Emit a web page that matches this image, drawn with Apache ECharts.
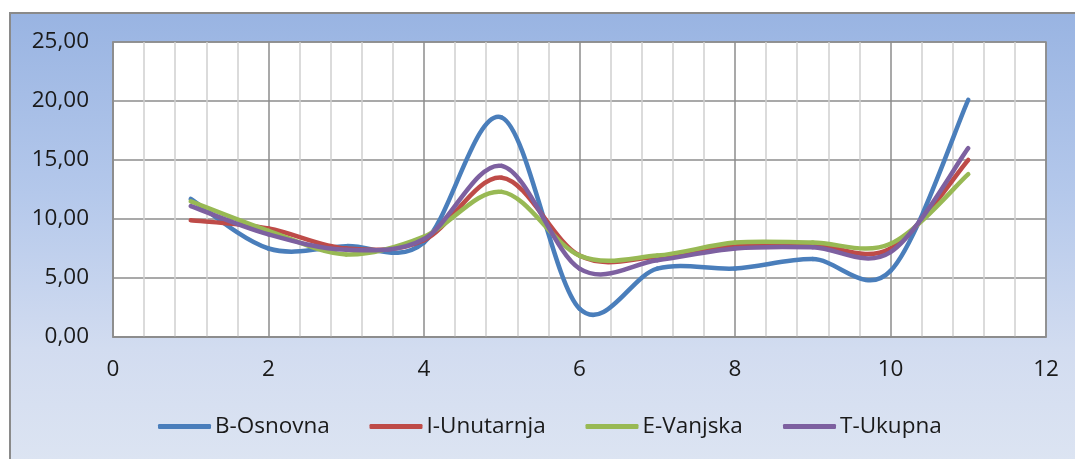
<!DOCTYPE html>
<html>
<head>
<meta charset="utf-8">
<script src="https://cdn.jsdelivr.net/npm/echarts@6/dist/echarts.min.js"></script>
<style>
  html, body { margin: 0; padding: 0; background: #ffffff; width: 1075px; height: 459px; overflow: hidden; }
  #frame {
    position: absolute; left: 9px; top: 12px; width: 1066px; height: 447px;
    border-left: 2px solid #8a8a8a; border-top: 2px solid #8a8a8a;
    background: linear-gradient(to bottom, #99b4e2 0%, #b4c8eb 40%, #d2dcf0 75%, #dce4f2 100%);
  }
  #chart { position: absolute; left: 0; top: 0; width: 1066px; height: 447px; }
</style>
</head>
<body>
<div id="frame"><div id="chart"></div></div>
<script>
// ---- data ----
const xValues = [1, 2, 3, 4, 5, 6, 7, 8, 9, 10, 11];
const seriesNames = ['B-Osnovna', 'I-Unutarnja', 'E-Vanjska', 'T-Ukupna'];
const bOsnovna   = [11.7, 7.5, 7.7, 8.0, 18.6, 2.4, 5.8, 5.8, 6.6, 5.6, 20.1];
const iUnutarnja = [9.9, 9.2, 7.5, 8.2, 13.5, 6.9, 6.8, 7.8, 7.8, 7.5, 15.0];
const eVanjska   = [11.5, 9.0, 7.0, 8.5, 12.3, 6.9, 6.9, 8.0, 8.0, 7.9, 13.8];
const tUkupna    = [11.1, 8.7, 7.4, 8.3, 14.5, 5.8, 6.5, 7.5, 7.6, 7.2, 16.0];
const yTickLabels = ['0,00', '5,00', '10,00', '15,00', '20,00', '25,00'];
const xTickLabels = ['0', '2', '4', '6', '8', '10', '12'];

const colors = ['#4a7ebb', '#be4b48', '#98b954', '#7d60a0'];
const allValues = [bOsnovna, iUnutarnja, eVanjska, tUkupna];

const chart = echarts.init(document.getElementById('chart'), null, { renderer: 'canvas' });
const font = '"Open Sans", "Liberation Sans", sans-serif';
const fs = 22.5;

// Smoothed line (Catmull-Rom Bezier, like a spreadsheet "smoothed line"),
// each segment positioned through the axes with api.coord.
function makeRender(values, color) {
  return function (params, api) {
    const i = params.dataIndex;
    const n = values.length;
    if (i >= n - 1) return null;
    const P = k => {
      const kk = Math.max(0, Math.min(n - 1, k));
      return api.coord([xValues[kk], values[kk]]);
    };
    const p0 = P(i - 1), p1 = P(i), p2 = P(i + 1), p3 = P(i + 2);
    return {
      type: 'bezierCurve',
      shape: {
        x1: p1[0], y1: p1[1], x2: p2[0], y2: p2[1],
        cpx1: p1[0] + (p2[0] - p0[0]) / 6, cpy1: p1[1] + (p2[1] - p0[1]) / 6,
        cpx2: p2[0] - (p3[0] - p1[0]) / 6, cpy2: p2[1] - (p3[1] - p1[1]) / 6
      },
      style: { stroke: color, lineWidth: 4.5, fill: null, lineCap: 'round' },
      silent: true
    };
  };
}

const series = seriesNames.map((name, i) => ({
  name: name,
  type: 'custom',
  renderItem: makeRender(allValues[i], colors[i]),
  data: xValues.map((x, j) => [x, allValues[i][j]]),
  encode: { x: 0, y: 1 },
  itemStyle: { color: colors[i] },
  clip: false,
  z: 3 + i
}));

const legendLefts = [142, 353.5, 569.5, 767];
const legends = seriesNames.map((name, i) => ({
  data: [name],
  left: legendLefts[i], top: 396,
  icon: 'roundRect',
  itemWidth: 53, itemHeight: 5, itemGap: 0,
  textStyle: { color: '#1a1a1a', fontSize: fs, fontFamily: font, padding: [0, 0, 0, -1] }
}));

chart.setOption({
  animation: false,
  backgroundColor: 'transparent',
  textStyle: { fontFamily: font },
  grid: {
    left: 102, top: 28, right: 31, bottom: 124,
    show: true, backgroundColor: '#ffffff', borderColor: '#8c8c8c', borderWidth: 1.5
  },
  xAxis: {
    type: 'value', min: 0, max: 12, interval: 2,
    axisLine: { show: true, lineStyle: { color: '#8c8c8c', width: 1.5 } },
    axisTick: { show: false },
    axisLabel: {
      color: '#1a1a1a', fontSize: fs, fontFamily: font, margin: 21,
      formatter: v => xTickLabels[Math.round(v / 2)]
    },
    splitLine: { show: true, lineStyle: { color: '#8c8c8c', width: 1.5 } },
    minorTick: { show: false, splitNumber: 5 },
    minorSplitLine: { show: true, lineStyle: { color: '#cfcfcf', width: 1.5 } }
  },
  yAxis: {
    type: 'value', min: 0, max: 25, interval: 5,
    axisLine: { show: true, lineStyle: { color: '#8c8c8c', width: 1.5 } },
    axisTick: { show: false },
    axisLabel: {
      color: '#1a1a1a', fontSize: fs, fontFamily: font, margin: 24,
      formatter: v => yTickLabels[Math.round(v / 5)]
    },
    splitLine: { show: true, lineStyle: { color: '#8c8c8c', width: 1.5 } }
  },
  legend: legends,
  series: series
});
</script>
</body>
</html>
